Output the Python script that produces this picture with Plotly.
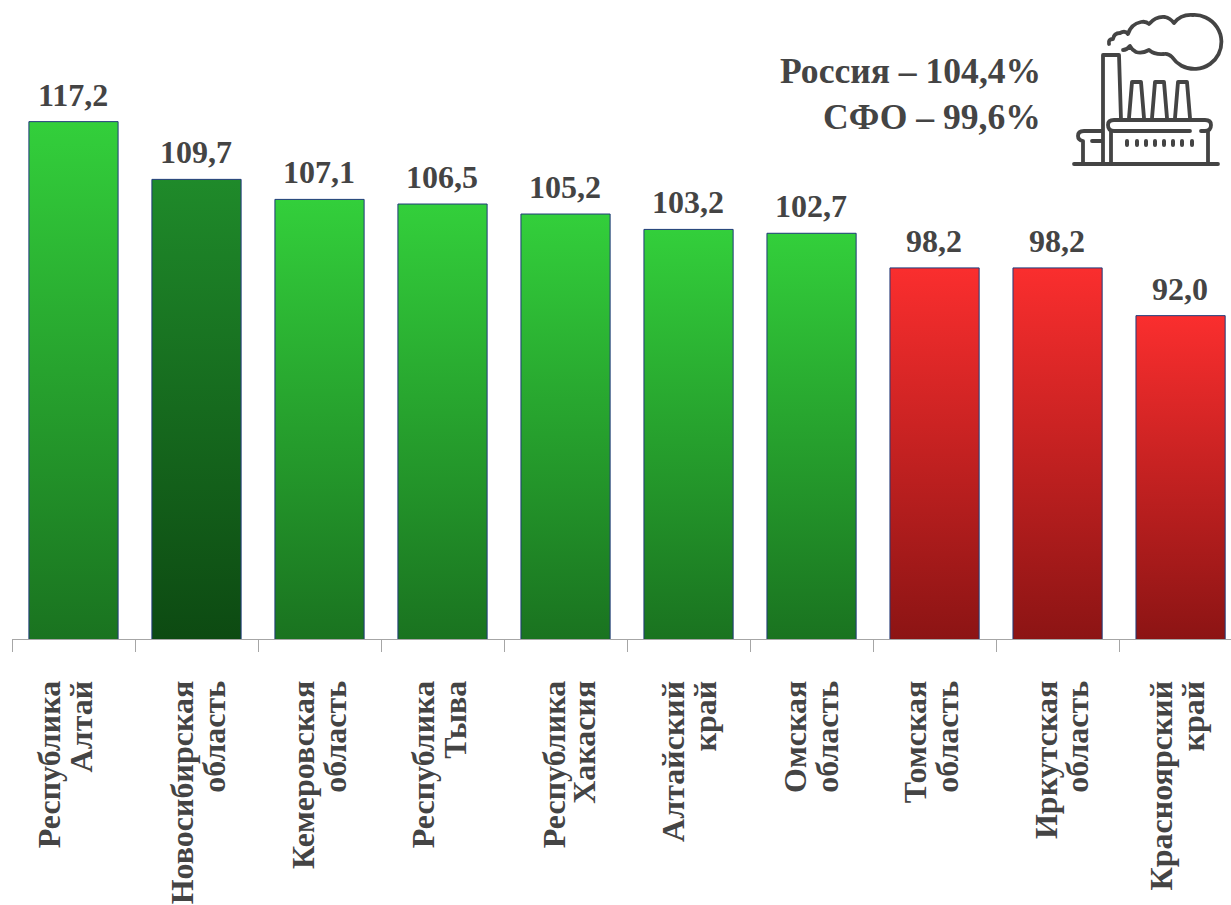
import base64
import json
import plotly.graph_objects as go

categories = ["Республика<br>Алтай", "Новосибирская<br>область", "Кемеровская<br>область",
              "Республика<br>Тыва", "Республика<br>Хакасия", "Алтайский<br>край",
              "Омская<br>область", "Томская<br>область", "Иркутская<br>область",
              "Красноярский<br>край"]
values = [117.2, 109.7, 107.1, 106.5, 105.2, 103.2, 102.7, 98.2, 98.2, 92.0]
value_labels = ["117,2", "109,7", "107,1", "106,5", "105,2", "103,2", "102,7", "98,2", "98,2", "92,0"]
gradient_top = ["#33CF3B", "#1F8A2A", "#33CF3B", "#33CF3B", "#33CF3B", "#33CF3B", "#33CF3B",
                "#FA2E2E", "#FA2E2E", "#FA2E2E"]
gradient_bottom = ["#1A7320", "#0D4A12", "#1A7320", "#1A7320", "#1A7320", "#1A7320", "#1A7320",
                   "#8C1414", "#8C1414", "#8C1414"]
notes = ["Россия – 104,4%", "СФО – 99,6%"]

# Styling only: sideways nudge of each two-line category label, and its line pitch (px).
label_nudge_px = [-3, 7, 5, 2, 10, 6, 5, 2, 10, 2]
label_line_px = 32
label_line_px_each = [32, 32, 32, 32, 30, 32, 32, 32, 31, 32]

TEXT = "#444444"
SERIF = "Liberation Serif"

icon_svg = """<svg xmlns='http://www.w3.org/2000/svg' viewBox='0 0 181 180' width='724' height='720'>
<g fill='none' stroke='#444444' stroke-width='3.8' stroke-linecap='round' stroke-linejoin='round'>
<path d='M24 164 H168'/>
<path d='M53 163 V55 H69 L71 120'/>
<path d='M79 118 L82 82 H91 L94 118'/>
<path d='M102 118 L105 82 H114 L117 118'/>
<path d='M125 118 L128 82 H137 L140 118'/>
<path d='M64 120 H155 Q161 120 161 125 Q161 131 155 131 H151 M140 131 H64 Q58 131 58 125 Q58 120 64 120'/>
<path d='M61 131 V163 M158 132 V163'/>
<path d='M52 131 H34 Q28 131 28 136 Q28 140 33 141 V163'/>
<path d='M42 141 H52'/>
<path d='M59 44 Q58 39 63 39 Q64 33 70 33 Q75 30 78 34 Q81 24 91 22 Q96 21 99 24 Q106 16 115 17 Q120 18 124 23 Q131 14 143 15 A 27 27 0 1 1 122 57 Q118 53 114 54 Q105 55 99 50 Q92 54 86 52 Q82 50 80 46 Q77 50 73 50'/>
</g>
<g stroke='#444444' stroke-width='4' stroke-linecap='round'>
<path d='M77 141 V145 M87 141 V145 M96 141 V145 M105 141 V145 M114 141 V145 M123 141 V145 M132 141 V145 M142 141 V145'/>
</g></svg>"""
icon_uri = "data:image/svg+xml;base64," + base64.b64encode(icon_svg.encode("utf-8")).decode("ascii")

W, H = 1231, 905
ML, MB = 12, 266
PW, PH = W - ML, H - MB

fig = go.Figure(go.Bar(
    x=categories, y=values, width=0.725,
    marker=dict(color=gradient_top, line=dict(color="#1F3A7A", width=1)),
    hoverinfo="skip",
))

fig.update_layout(
    width=W, height=H, margin=dict(l=ML, r=0, t=0, b=MB, pad=0),
    paper_bgcolor="white", plot_bgcolor="white", showlegend=False,
    font=dict(family=SERIF, color=TEXT),
    xaxis=dict(type="category", tickmode="array", tickvals=categories, ticktext=categories,
               range=[-0.5, 9.41], tickson="boundaries", ticks="outside", ticklen=12, tickwidth=1,
               tickcolor="#A6A6A6", showline=True, linecolor="#A6A6A6", linewidth=1,
               showgrid=False, zeroline=False, tickangle=-90, ticklabelstandoff=28,
               tickfont=dict(family=SERIF, size=32, color=TEXT, weight="bold")),
    yaxis=dict(range=[50, 133], visible=False, showgrid=False, zeroline=False),
)

for cat, val, lab in zip(categories, values, value_labels):
    fig.add_annotation(text=f"<b>{lab}</b>", x=cat, y=val, yanchor="bottom", yshift=7, xshift=-1,
                       showarrow=False, font=dict(family=SERIF, size=32, color=TEXT))

for note, ypx in zip(notes, [71, 117]):
    fig.add_annotation(text=f"<b>{note}</b>", xref="paper", yref="paper",
                       x=(1043 - ML) / PW, y=1 - ypx / PH, xanchor="right", yanchor="middle",
                       showarrow=False, font=dict(family=SERIF, size=35.6, color=TEXT))

fig.add_layout_image(dict(source=icon_uri, xref="paper", yref="paper",
                          x=(1050 - ML) / PW, y=1, sizex=181 / PW, sizey=180 / PH,
                          xanchor="left", yanchor="top", sizing="stretch", layer="above"))

# Plotly bars take flat fills only, so the vertical gradients are attached to the drawn bars
# afterwards; the tick labels' line pitch is likewise not an option, so it is set on the tspans.
post = """
document.body.style.margin = '0';
var gd = document.getElementById('{plot_id}');
var tops = %s, bottoms = %s, nudge = %s, pitch = %s;
var NS = 'http://www.w3.org/2000/svg';
var svg = gd.querySelector('svg.main-svg');
var defs = document.createElementNS(NS, 'defs');
svg.insertBefore(defs, svg.firstChild);
var plotH = gd._fullLayout._size.h;
gd.querySelectorAll('.bars .point path').forEach(function (p, i) {
  var g = document.createElementNS(NS, 'linearGradient');
  g.setAttribute('id', 'bargrad' + i);
  g.setAttribute('gradientUnits', 'userSpaceOnUse');
  g.setAttribute('x1', '0'); g.setAttribute('x2', '0');
  g.setAttribute('y1', String(p.getBBox().y)); g.setAttribute('y2', String(plotH));
  [tops[i], bottoms[i]].forEach(function (c, k) {
    var s = document.createElementNS(NS, 'stop');
    s.setAttribute('offset', String(k));
    s.setAttribute('stop-color', c);
    g.appendChild(s);
  });
  defs.appendChild(g);
  p.style.fill = 'url(#bargrad' + i + ')';
});
gd.querySelectorAll('.xtick text').forEach(function (t, i) {
  t.querySelectorAll('tspan.line').forEach(function (l, k) {
    l.setAttribute('dy', String(nudge[i] + k * pitch[i]));
  });
});
""" % (json.dumps(gradient_top), json.dumps(gradient_bottom), json.dumps(label_nudge_px),
       json.dumps(label_line_px_each))

fig.write_html("out.html", post_script=post, config={"displayModeBar": False})
